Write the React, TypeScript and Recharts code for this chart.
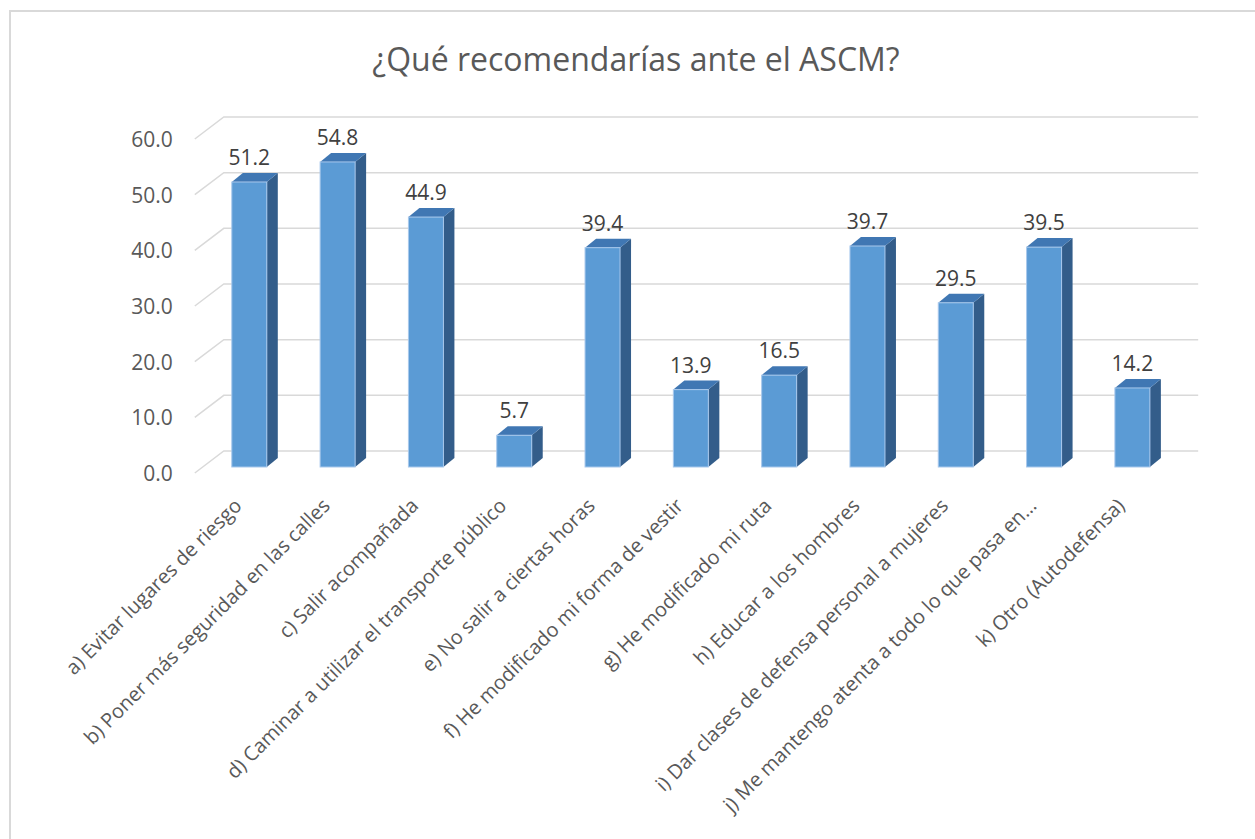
import { BarChart, Bar, XAxis, YAxis, CartesianGrid, LabelList } from 'recharts';

const categories = [
  'a) Evitar lugares de riesgo',
  'b) Poner más seguridad en las calles',
  'c) Salir acompañada',
  'd) Caminar a utilizar el transporte público',
  'e) No salir a ciertas horas',
  'f) He modificado mi forma de vestir',
  'g) He modificado mi ruta',
  'h) Educar a los hombres',
  'i) Dar clases de defensa personal a mujeres',
  'j) Me mantengo atenta a todo lo que pasa en…',
  'k) Otro (Autodefensa)',
];
const values = [51.2, 54.8, 44.9, 5.7, 39.4, 13.9, 16.5, 39.7, 29.5, 39.5, 14.2];
const yTicks = [0, 10, 20, 30, 40, 50, 60];
const title = '¿Qué recomendarías ante el ASCM?';

const data = categories.map((name, i) => ({ name, value: values[i] }));

const FONT = '"Open Sans", sans-serif';
const DX = 11;
const DY = 9;

const Bar3D = (props: any) => {
  const { x, y, width, height } = props;
  if (height <= 0) return null;
  return (
    <g>
      <path
        d={`M${x + width},${y} L${x + width + DX},${y - DY} L${x + width + DX},${y + height - DY} L${x + width},${y + height} Z`}
        fill="#335d8a"
      />
      <path
        d={`M${x},${y} L${x + DX},${y - DY} L${x + width + DX},${y - DY} L${x + width},${y} Z`}
        fill="#4077b3"
      />
      <rect x={x} y={y} width={width} height={height} fill="#5b9bd5" stroke="#a8c8ec" strokeWidth={1} />
    </g>
  );
};

const gridLine = (p: any) => (
  <path
    key={`g-${p.index}-${p.y1}`}
    d={`M${p.x1 - 10},${p.y1 + 6} L${p.x1 + 19},${p.y1 - 16} L${p.x2 + 22},${p.y1 - 16}`}
    stroke="#d9d9d9"
    strokeWidth={1.5}
    fill="none"
  />
);

const YTick = (p: any) => (
  <text x={p.x - 32} y={p.y + 6} textAnchor="end" dominantBaseline="central" fill="#595959" fontSize={21} fontFamily={FONT}>
    {Number(p.payload.value).toFixed(1)}
  </text>
);

const XTick = (p: any) => {
  const ax = p.x - 6;
  const ay = p.y + 40;
  return (
    <text
      x={ax}
      y={ay}
      transform={`rotate(-45, ${ax}, ${ay})`}
      textAnchor="end"
      fill="#595959"
      fontSize={20}
      fontFamily={FONT}
    >
      {p.payload.value}
    </text>
  );
};

const ValueLabel = (p: any) => (
  <text
    x={p.x + p.width / 2}
    y={p.y - 25}
    textAnchor="middle"
    dominantBaseline="central"
    fill="#404040"
    fontSize={21}
    fontFamily={FONT}
  >
    {Number(p.value).toFixed(1)}
  </text>
);

export default function App() {
  return (
    <div style={{ position: 'absolute', left: 0, top: 0, width: 1255, height: 839, background: '#fff', overflow: 'hidden' }}>
      <div
        style={{
          position: 'absolute',
          left: 9,
          top: 10,
          width: 1400,
          height: 1000,
          border: '2px solid #d9d9d9',
        }}
      />
      <div
        style={{
          position: 'absolute',
          left: 0,
          top: 36,
          width: 1272,
          textAlign: 'center',
          fontFamily: FONT,
          fontSize: 32,
          color: '#595959',
          lineHeight: '46px',
        }}
      >
        {title}
      </div>
      <div style={{ position: 'absolute', left: 0, top: 0 }}>
        <BarChart
          width={1255}
          height={839}
          data={data}
          margin={{ top: 133, right: 78.8, bottom: 72, left: 144.8 }}
          barSize={35}
        >
          <CartesianGrid vertical={false} horizontal={gridLine} />
          <XAxis
            dataKey="name"
            interval={0}
            height={300}
            axisLine={false}
            tickLine={false}
            tickSize={0}
            tickMargin={0}
            tick={<XTick />}
          />
          <YAxis
            domain={[0, 60]}
            ticks={yTicks}
            interval={0}
            width={60}
            axisLine={false}
            tickLine={false}
            tickSize={0}
            tickMargin={0}
            tick={<YTick />}
          />
          <Bar dataKey="value" shape={<Bar3D />} isAnimationActive={false}>
            <LabelList dataKey="value" content={<ValueLabel />} />
          </Bar>
        </BarChart>
      </div>
    </div>
  );
}
